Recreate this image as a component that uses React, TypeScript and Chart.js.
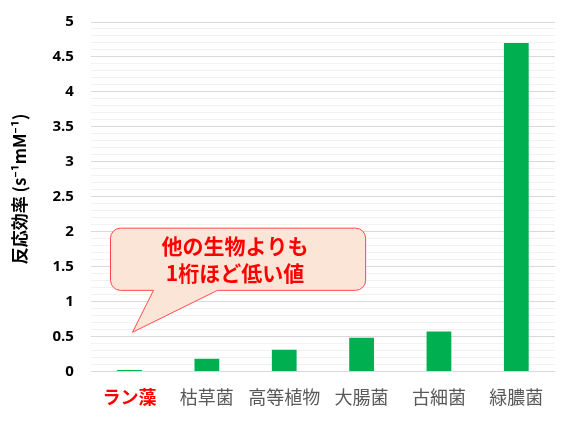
import React, { useEffect, useRef } from 'react';
import { Chart, registerables } from 'chart.js';

Chart.register(...registerables);

const CATEGORIES = ['ラン藻', '枯草菌', '高等植物', '大腸菌', '古細菌', '緑膿菌'];
const EFFICIENCY = [0.02, 0.18, 0.31, 0.48, 0.57, 4.7];
const LABEL_COLORS = ['#FF0000', '#595959', '#595959', '#595959', '#595959', '#595959'];
const CALLOUT_LINES = ['他の生物よりも', '1桁ほど低い値'];

const JP_FONT = "'Noto Sans CJK JP', 'Noto Sans', sans-serif";
const NUM_FONT = "'Open Sans', 'Noto Sans', sans-serif";

// speech bubble pointing at the first bar
const calloutPlugin = {
    id: 'callout',
    afterDatasetsDraw(chart: Chart) {
        const { ctx } = chart;
        const xs = chart.scales.x;
        const ys = chart.scales.y;
        const left = xs.getPixelForValue(0) - 19;
        const right = xs.getPixelForValue(3) + 4;
        const top = ys.getPixelForValue(2.05);
        const bottom = ys.getPixelForValue(1.16);
        const tipX = xs.getPixelForValue(0) + 3;
        const tipY = ys.getPixelForValue(0.56);
        const baseA = left + 43;
        const baseB = left + 107;
        const r = 10;

        ctx.save();
        ctx.beginPath();
        ctx.moveTo(left + r, top);
        ctx.lineTo(right - r, top);
        ctx.arcTo(right, top, right, top + r, r);
        ctx.lineTo(right, bottom - r);
        ctx.arcTo(right, bottom, right - r, bottom, r);
        ctx.lineTo(baseB, bottom);
        ctx.lineTo(tipX, tipY);
        ctx.lineTo(baseA, bottom);
        ctx.lineTo(left + r, bottom);
        ctx.arcTo(left, bottom, left, bottom - r, r);
        ctx.lineTo(left, top + r);
        ctx.arcTo(left, top, left + r, top, r);
        ctx.closePath();
        ctx.fillStyle = '#FBE5D6';
        ctx.fill();
        ctx.strokeStyle = '#FF4B4B';
        ctx.lineWidth = 1;
        ctx.stroke();

        ctx.fillStyle = '#FF0000';
        ctx.font = `bold 21px ${JP_FONT}`;
        ctx.textAlign = 'center';
        ctx.textBaseline = 'middle';
        const cx = (left + right) / 2 - 3;
        const cy = (top + bottom) / 2;
        CALLOUT_LINES.forEach((line, i) => {
            ctx.fillText(line, cx, cy + (i - 0.5) * 27);
        });
        ctx.restore();
    },
};

const isMajor = (v: number) => Math.abs(v * 2 - Math.round(v * 2)) < 1e-6;

const App: React.FC = () => {
    const canvasRef = useRef<HTMLCanvasElement>(null);
    const chartRef = useRef<Chart | null>(null);

    useEffect(() => {
        document.body.style.margin = '0';
        if (!canvasRef.current) return;
        if (chartRef.current) chartRef.current.destroy();

        chartRef.current = new Chart(canvasRef.current, {
            type: 'bar',
            data: {
                labels: CATEGORIES,
                datasets: [{
                    data: EFFICIENCY,
                    backgroundColor: '#00B050',
                    borderWidth: 0,
                    barPercentage: 1,
                    categoryPercentage: 0.32,
                }],
            },
            options: {
                responsive: false,
                animation: false,
                layout: { padding: { top: 7, right: 12, left: 9, bottom: 6 } },
                plugins: {
                    legend: { display: false },
                    tooltip: { enabled: false },
                },
                scales: {
                    x: {
                        grid: { display: false },
                        border: { display: false },
                        ticks: {
                            color: LABEL_COLORS,
                            padding: 7,
                            autoSkip: false,
                            maxRotation: 0,
                            minRotation: 0,
                            font: (c: any) => ({
                                family: JP_FONT,
                                size: 18,
                                weight: c.index === 0 ? 'bold' : 'normal',
                            }),
                        },
                    },
                    y: {
                        min: 0,
                        max: 5,
                        border: { display: false },
                        grid: {
                            drawTicks: false,
                            lineWidth: 1,
                            color: (c: any) => (isMajor(c.tick.value) ? '#D9D9D9' : '#F2F2F2'),
                        },
                        ticks: {
                            stepSize: 0.1,
                            autoSkip: false,
                            color: '#000000',
                            padding: 17,
                            font: { family: NUM_FONT, size: 15, weight: 'bold' },
                            callback: (v: any) => (isMajor(v) ? String(Math.round(v * 10) / 10) : ''),
                        },
                        title: {
                            display: true,
                            text: '    反応効率 (s⁻¹mM⁻¹)',
                            color: '#000000',
                            padding: { top: 0, bottom: 6 },
                            font: { family: JP_FONT, size: 17, weight: 'bold' },
                        },
                    },
                },
            },
            plugins: [calloutPlugin],
        });

        return () => { chartRef.current?.destroy(); };
    }, []);

    return (
        <div style={{ position: 'absolute', left: 0, top: 0, width: 567, height: 425, overflow: 'hidden', background: '#ffffff' }}>
            <canvas ref={canvasRef} width={567} height={425} style={{ position: 'absolute', left: 0, top: -4 }} />
        </div>
    );
};

export default App;
